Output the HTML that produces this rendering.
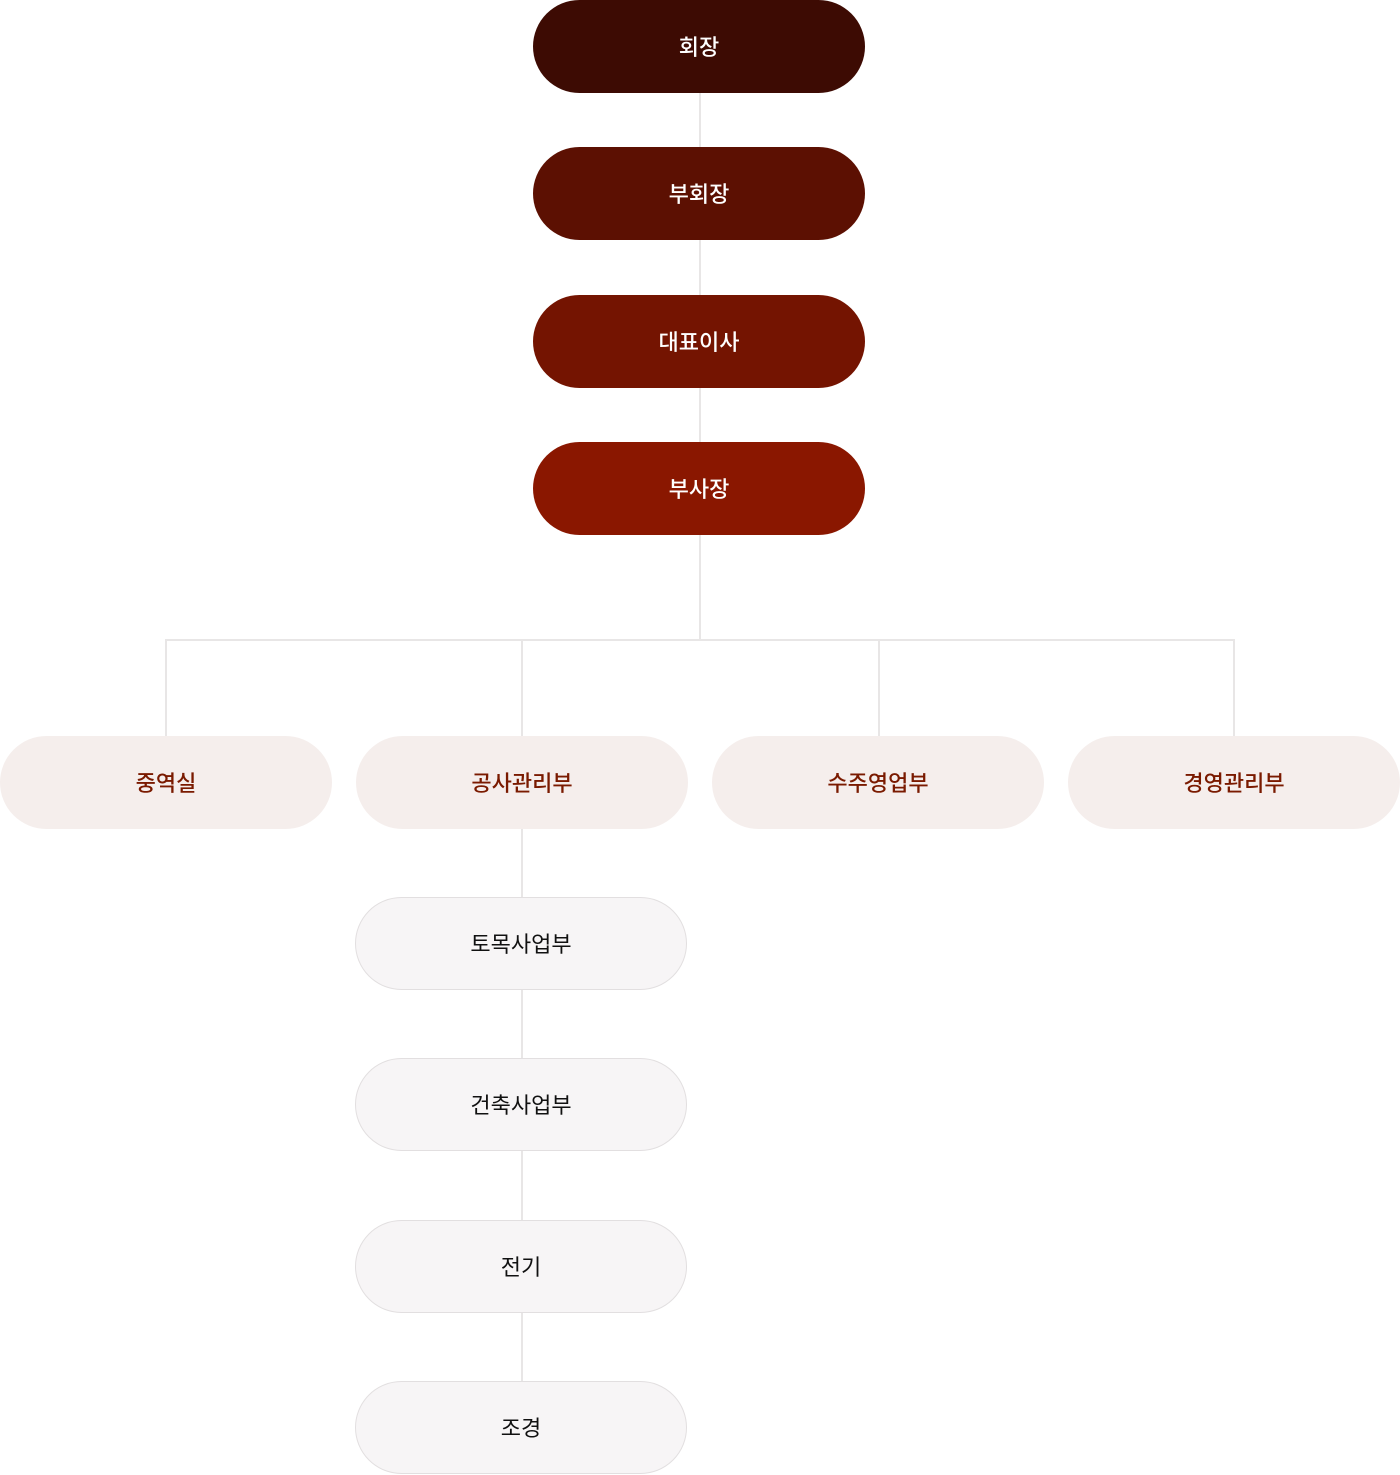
<!DOCTYPE html>
<html><head><meta charset="utf-8"><style>
body{margin:0;width:1400px;height:1475px;background:#fff;position:relative;overflow:hidden;font-family:"Liberation Sans","Noto Sans CJK KR",sans-serif;}
.b{position:absolute;width:332px;height:93px;border-radius:47px;display:flex;align-items:center;justify-content:center;font-size:22px;box-sizing:border-box;padding-bottom:2px;}
.t{color:#fff;font-weight:500;left:533px;}
.m{background:#f5eeec;color:#7a1a00;font-weight:500;top:736px;}
.s{background:#f7f5f6;border:1px solid #e2dfe0;color:#111;left:355px;}
.l{position:absolute;background:#e8e6e6;}
</style></head><body>
<div class="l" style="left:699px;top:90px;width:2px;height:551px"></div>
<div class="l" style="left:165px;top:639px;width:1070px;height:2px"></div>
<div class="l" style="left:165px;top:640px;width:2px;height:100px"></div>
<div class="l" style="left:521px;top:640px;width:2px;height:760px"></div>
<div class="l" style="left:878px;top:640px;width:2px;height:100px"></div>
<div class="l" style="left:1233px;top:640px;width:2px;height:100px"></div>
<div class="b t" style="top:0;background:#3d0b03">회장</div>
<div class="b t" style="top:147px;background:#5c1002">부회장</div>
<div class="b t" style="top:295px;background:#741401">대표이사</div>
<div class="b t" style="top:442px;background:#8a1700">부사장</div>
<div class="b m" style="left:0">중역실</div>
<div class="b m" style="left:356px">공사관리부</div>
<div class="b m" style="left:712px">수주영업부</div>
<div class="b m" style="left:1068px">경영관리부</div>
<div class="b s" style="top:897px">토목사업부</div>
<div class="b s" style="top:1058px">건축사업부</div>
<div class="b s" style="top:1220px">전기</div>
<div class="b s" style="top:1381px">조경</div>
</body></html>
